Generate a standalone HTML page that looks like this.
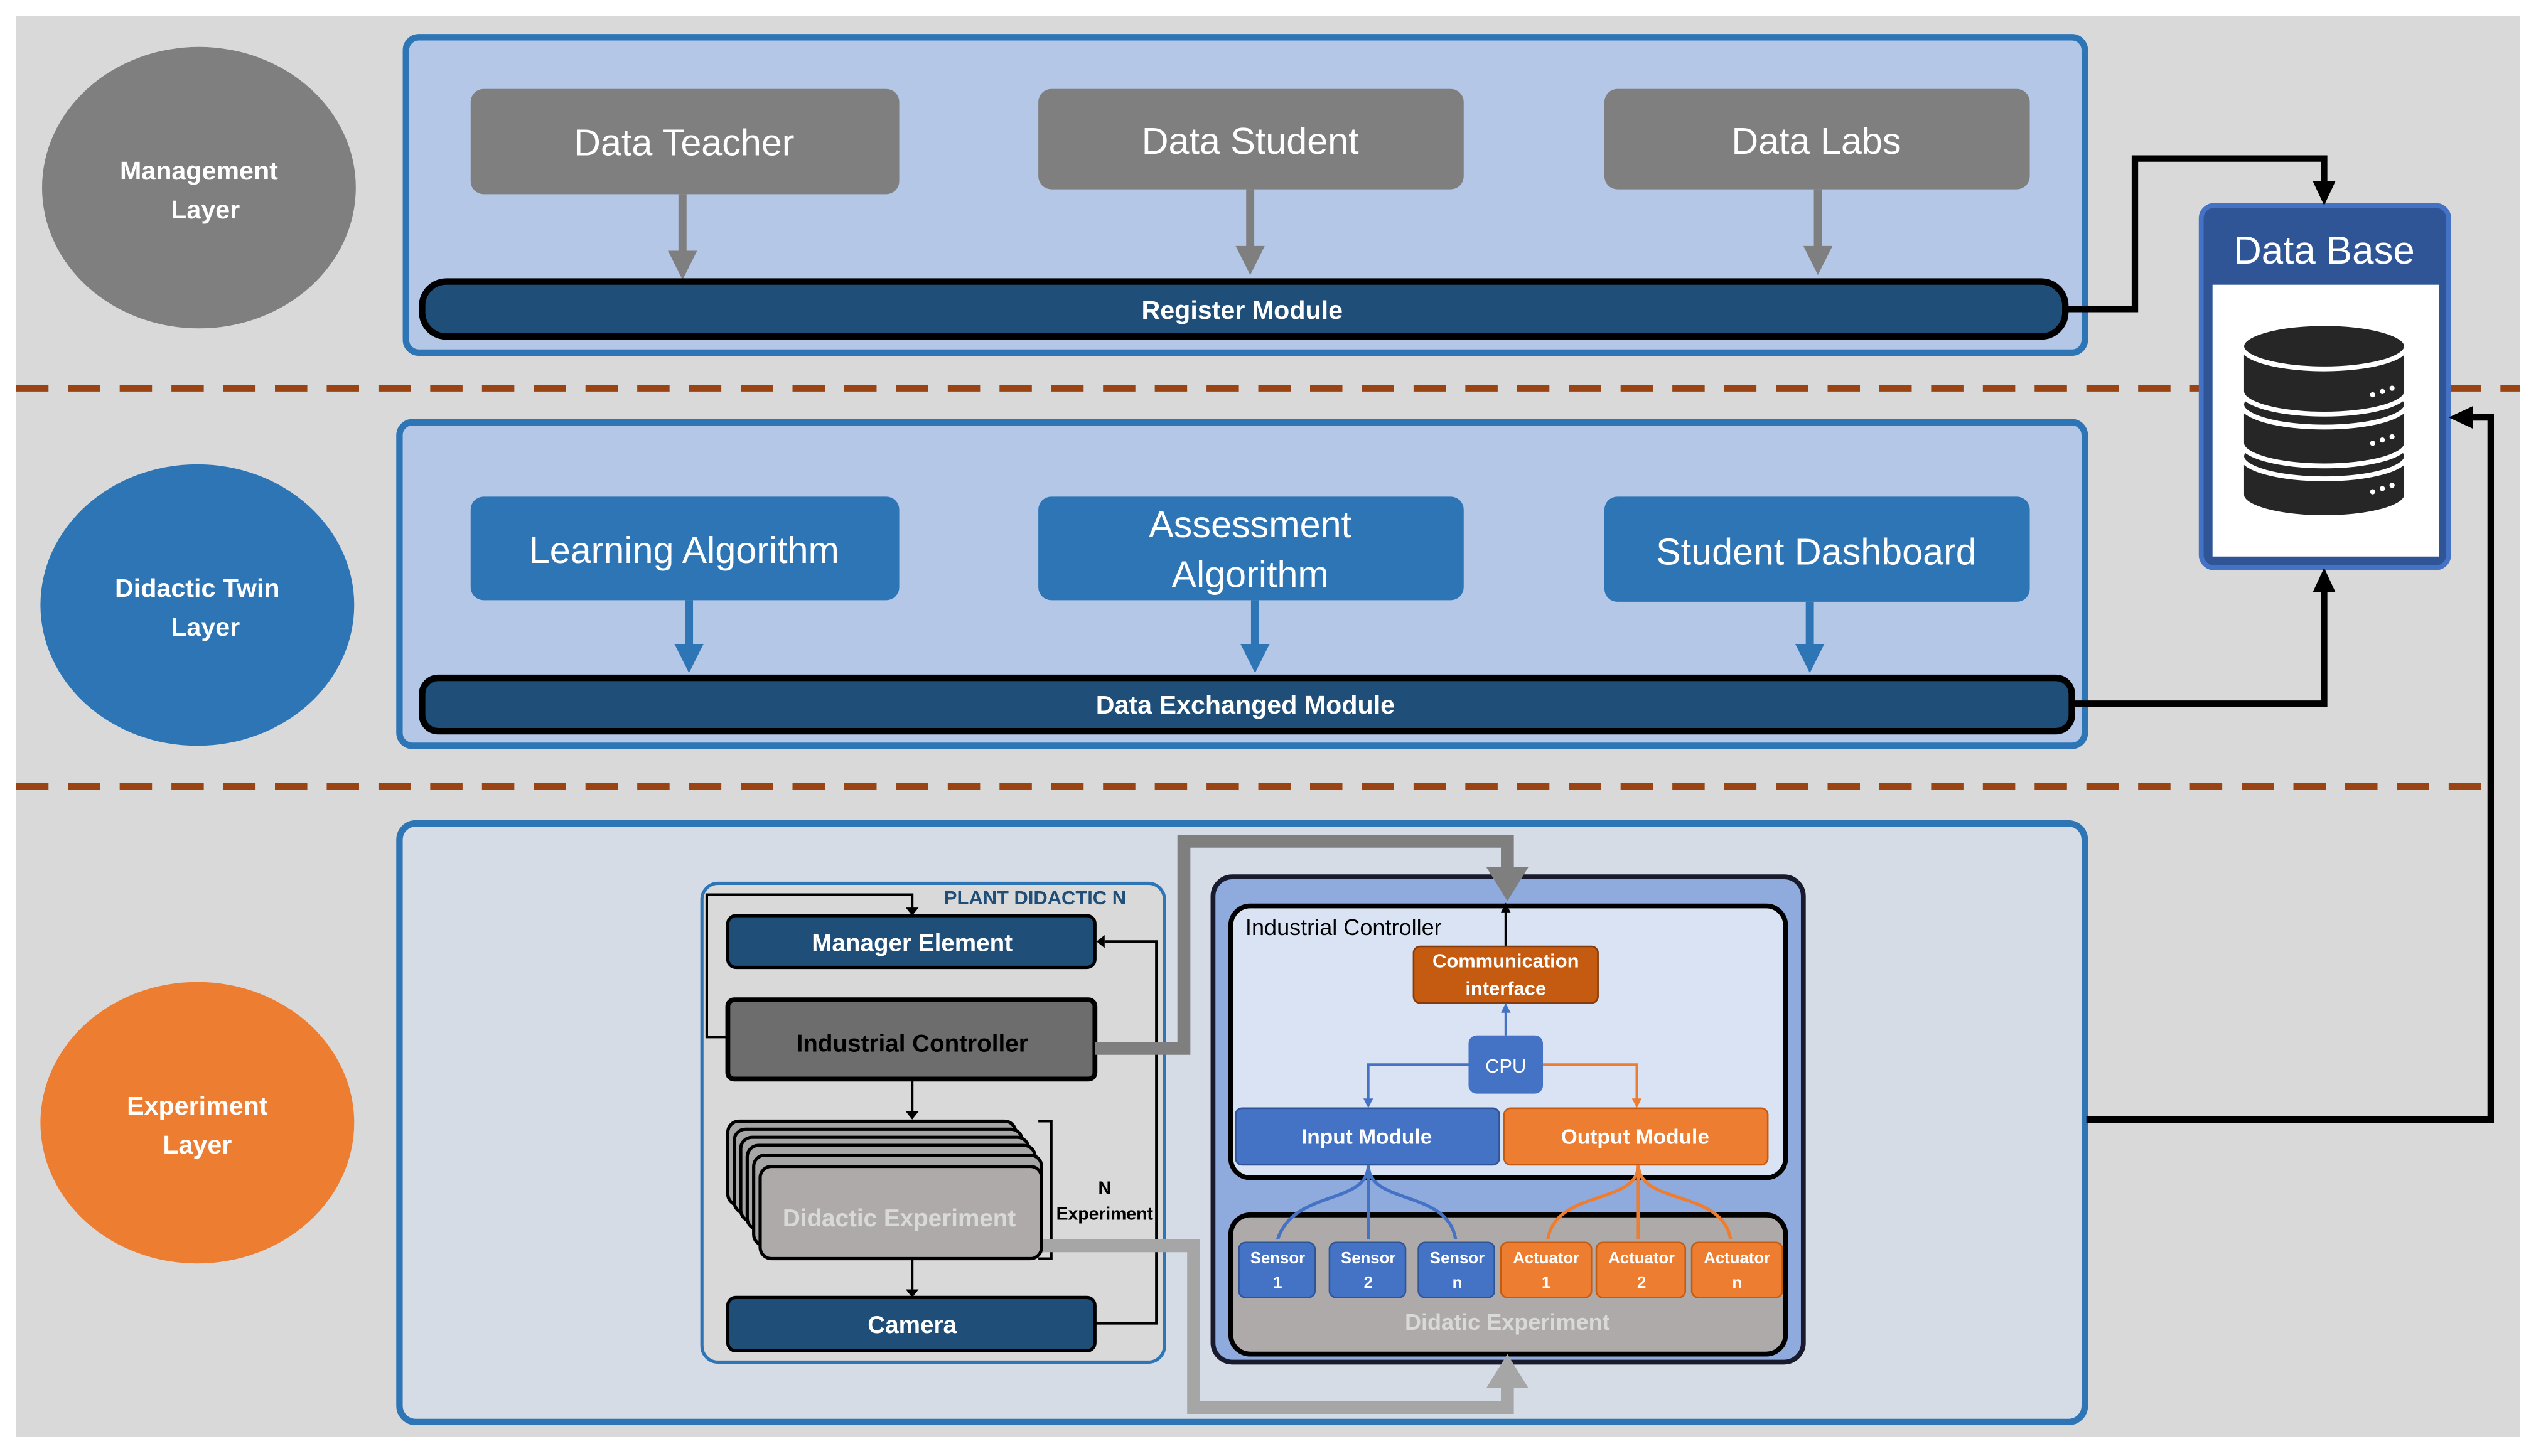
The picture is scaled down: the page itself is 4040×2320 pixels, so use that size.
<!DOCTYPE html>
<html><head><meta charset="utf-8"><style>
html,body{margin:0;padding:0;background:#fff;}
svg{display:block;}
text{font-family:"Liberation Sans",sans-serif;}
</style></head><body>
<svg width="4040" height="2320" viewBox="0 0 1568 900" preserveAspectRatio="none" xmlns="http://www.w3.org/2000/svg">
<defs>
<marker id="ak" markerWidth="6" markerHeight="6" refX="5" refY="3" orient="auto" markerUnits="strokeWidth"><path d="M0,0 L6,3 L0,6 z" fill="#000"/></marker>
<marker id="ab" markerWidth="6" markerHeight="6" refX="5" refY="3" orient="auto" markerUnits="strokeWidth"><path d="M0,0 L6,3 L0,6 z" fill="#4472c4"/></marker>
<marker id="ao" markerWidth="6" markerHeight="6" refX="5" refY="3" orient="auto" markerUnits="strokeWidth"><path d="M0,0 L6,3 L0,6 z" fill="#ed7d31"/></marker>
</defs>
<rect x="10" y="10" width="1548" height="878" fill="#d9d9d9"/>
<!-- dashed lines -->
<line x1="10" y1="240" x2="1558" y2="240" stroke="#9a4414" stroke-width="4" stroke-dasharray="20,12"/>
<line x1="10" y1="486" x2="1545" y2="486" stroke="#9a4414" stroke-width="4" stroke-dasharray="20,12"/>
<!-- circles -->
<ellipse cx="123" cy="116" rx="97" ry="87" fill="#7f7f7f"/>
<text x="123" y="111" font-size="16" font-weight="bold" fill="#fff" text-anchor="middle">Management</text>
<text x="127" y="135" font-size="16" font-weight="bold" fill="#fff" text-anchor="middle">Layer</text>
<ellipse cx="122" cy="374" rx="97" ry="87" fill="#2e75b6"/>
<text x="122" y="369" font-size="16" font-weight="bold" fill="#fff" text-anchor="middle">Didactic Twin</text>
<text x="127" y="393" font-size="16" font-weight="bold" fill="#fff" text-anchor="middle">Layer</text>
<ellipse cx="122" cy="694" rx="97" ry="87" fill="#ed7d31"/>
<text x="122" y="689" font-size="16" font-weight="bold" fill="#fff" text-anchor="middle">Experiment</text>
<text x="122" y="713" font-size="16" font-weight="bold" fill="#fff" text-anchor="middle">Layer</text>
<!-- panels -->
<rect x="251" y="23" width="1038" height="195" rx="8" fill="#b4c7e7" stroke="#2e75b6" stroke-width="4"/>
<rect x="247" y="261" width="1042" height="200" rx="8" fill="#b4c7e7" stroke="#2e75b6" stroke-width="4"/>
<rect x="247" y="509" width="1042" height="370" rx="10" fill="#d6dce5" stroke="#2e75b6" stroke-width="4"/>
<!-- management boxes -->
<g fill="#7f7f7f">
<rect x="291" y="55" width="265" height="65" rx="8"/>
<rect x="642" y="55" width="263" height="62" rx="8"/>
<rect x="992" y="55" width="263" height="62" rx="8"/>
</g>
<g font-size="23" fill="#fff" text-anchor="middle">
<text x="423" y="96">Data Teacher</text>
<text x="773" y="95">Data Student</text>
<text x="1123" y="95">Data Labs</text>
</g>
<g stroke="#7f7f7f" stroke-width="5" fill="#7f7f7f">
<line x1="422" y1="120" x2="422" y2="158"/><path d="M413,155 L431,155 L422,173 z" stroke="none"/>
<line x1="773" y1="117" x2="773" y2="155"/><path d="M764,152 L782,152 L773,170 z" stroke="none"/>
<line x1="1124" y1="117" x2="1124" y2="155"/><path d="M1115,152 L1133,152 L1124,170 z" stroke="none"/>
</g>
<rect x="261" y="174" width="1016" height="34" rx="15" fill="#1f4e79" stroke="#000" stroke-width="4"/>
<text x="768" y="197" font-size="16" font-weight="bold" fill="#fff" text-anchor="middle">Register Module</text>
<!-- twin boxes -->
<g fill="#2e75b6">
<rect x="291" y="307" width="265" height="64" rx="8"/>
<rect x="642" y="307" width="263" height="64" rx="8"/>
<rect x="992" y="307" width="263" height="65" rx="8"/>
</g>
<g font-size="23" fill="#fff" text-anchor="middle">
<text x="423" y="348">Learning Algorithm</text>
<text x="773" y="332">Assessment</text>
<text x="773" y="363">Algorithm</text>
<text x="1123" y="349">Student Dashboard</text>
</g>
<g stroke="#2e75b6" stroke-width="5" fill="#2e75b6">
<line x1="426" y1="371" x2="426" y2="400"/><path d="M417,398 L435,398 L426,416 z" stroke="none"/>
<line x1="776" y1="371" x2="776" y2="400"/><path d="M767,398 L785,398 L776,416 z" stroke="none"/>
<line x1="1119" y1="372" x2="1119" y2="400"/><path d="M1110,398 L1128,398 L1119,416 z" stroke="none"/>
</g>
<rect x="261" y="419" width="1020" height="33" rx="10" fill="#1f4e79" stroke="#000" stroke-width="4"/>
<text x="770" y="441" font-size="16" font-weight="bold" fill="#fff" text-anchor="middle">Data Exchanged Module</text>
<!-- Data Base -->
<rect x="1361" y="127" width="153" height="224" rx="8" fill="#2f5597" stroke="#4472c4" stroke-width="3"/>
<rect x="1368" y="176" width="140" height="168" fill="#fff"/>
<text x="1437" y="163" font-size="24" fill="#fff" text-anchor="middle">Data Base</text>
<g fill="#262626" stroke="#fff" stroke-width="3">
<path d="M1386,282 v24 a51,14 0 0 0 102,0 v-24 z"/>
<ellipse cx="1437" cy="282" rx="51" ry="14"/>
<path d="M1386,250 v24 a51,14 0 0 0 102,0 v-24 z"/>
<ellipse cx="1437" cy="250" rx="51" ry="14"/>
<path d="M1386,214 v28 a51,14 0 0 0 102,0 v-28 z"/>
<ellipse cx="1437" cy="214" rx="51" ry="14"/>
</g>
<g fill="#fff"><circle cx="1467" cy="244" r="1.6"/><circle cx="1473" cy="242" r="1.6"/><circle cx="1479" cy="240" r="1.6"/>
<circle cx="1467" cy="274" r="1.6"/><circle cx="1473" cy="272" r="1.6"/><circle cx="1479" cy="270" r="1.6"/>
<circle cx="1467" cy="304" r="1.6"/><circle cx="1473" cy="302" r="1.6"/><circle cx="1479" cy="300" r="1.6"/></g>
<!-- DB connectors -->
<g fill="none" stroke="#000" stroke-width="4">
<polyline points="1278,191 1320,191 1320,98 1437,98 1437,114"/>
<polyline points="1282,435 1437,435 1437,365"/>
<polyline points="1290,692 1540,692 1540,258 1528,258"/>
</g>
<path d="M1430,112 L1444,112 L1437,127 z"/>
<path d="M1430,366 L1444,366 L1437,351 z"/>
<path d="M1529,251 L1529,265 L1514,258 z"/>
<!-- Plant didactic -->
<rect x="434" y="546" width="286" height="296" rx="10" fill="#d9d9d9" stroke="#2e75b6" stroke-width="2"/>
<text x="640" y="559" font-size="12" font-weight="bold" fill="#1f4e79" text-anchor="middle">PLANT DIDACTIC N</text>
<g fill="none" stroke="#000" stroke-width="1.6">
<polyline points="450,641 437,641 437,553 564,553 564,562"/>
<polyline points="677,818 715,818 715,582 683,582"/>
<line x1="564" y1="667" x2="564" y2="688"/>
<line x1="564" y1="778" x2="564" y2="798"/>
<polyline points="642,693 650,693 650,778 642,778"/>
</g>
<path d="M560,561 L568,561 L564,566 z"/><path d="M683,578 L683,586 L678,582 z"/>
<path d="M560,687 L568,687 L564,692 z"/><path d="M560,797 L568,797 L564,802 z"/>
<rect x="450" y="566" width="227" height="32" rx="5" fill="#1f4e79" stroke="#000" stroke-width="2"/>
<text x="564" y="588" font-size="15" font-weight="bold" fill="#fff" text-anchor="middle">Manager Element</text>
<rect x="450" y="618" width="227" height="49" rx="4" fill="#6d6d6d" stroke="#000" stroke-width="3"/>
<text x="564" y="650" font-size="15" font-weight="bold" fill="#000" text-anchor="middle">Industrial Controller</text>
<g fill="#a6a6a6" stroke="#000" stroke-width="2">
<rect x="450" y="693" width="178" height="52" rx="7"/>
<rect x="454" y="698" width="178" height="52" rx="7"/>
<rect x="458" y="703" width="178" height="52" rx="7"/>
<rect x="462" y="708" width="178" height="52" rx="7"/>
<rect x="466" y="714" width="178" height="56" rx="7"/>
<rect x="470" y="721" width="174" height="57" rx="7" fill="#aeaaaa"/>
</g>
<text x="556" y="758" font-size="15" font-weight="bold" fill="#d9d9d9" text-anchor="middle">Didactic Experiment</text>
<text x="683" y="738" font-size="11" font-weight="bold" fill="#000" text-anchor="middle">N</text>
<text x="683" y="754" font-size="11" font-weight="bold" fill="#000" text-anchor="middle">Experiment</text>
<rect x="450" y="802" width="227" height="33" rx="5" fill="#1f4e79" stroke="#000" stroke-width="2"/>
<text x="564" y="824" font-size="15" font-weight="bold" fill="#fff" text-anchor="middle">Camera</text>
<!-- right box -->
<rect x="750" y="542" width="365" height="300" rx="12" fill="#8faadc" stroke="#1a1a2e" stroke-width="3"/>
<rect x="761" y="560" width="343" height="168" rx="12" fill="#dae3f3" stroke="#000" stroke-width="3"/>
<text x="770" y="578" font-size="14" fill="#000">Industrial Controller</text>
<rect x="761" y="751" width="343" height="86" rx="12" fill="#aeaaaa" stroke="#000" stroke-width="3"/>
<text x="932" y="822" font-size="14" font-weight="bold" fill="#d9d9d9" text-anchor="middle">Didatic Experiment</text>
<!-- gray thick connectors -->
<polyline points="677,648 732,648 732,520 932,520 932,540" fill="none" stroke="#7f7f7f" stroke-width="8"/>
<path d="M919,536 L945,536 L932,557 z" fill="#7f7f7f"/>
<polyline points="645,770 738,770 738,870 932,870 932,856" fill="none" stroke="#a6a6a6" stroke-width="8"/>
<path d="M919,858 L945,858 L932,837 z" fill="#a6a6a6"/>
<!-- inner controller -->
<line x1="931" y1="585" x2="931" y2="563" stroke="#000" stroke-width="1.5"/><path d="M928,564 L934,564 L931,558 z"/>
<rect x="874" y="585" width="114" height="35" rx="4" fill="#c55a11" stroke="#843c0c" stroke-width="1"/>
<text x="931" y="598" font-size="12" font-weight="bold" fill="#fff" text-anchor="middle">Communication</text>
<text x="931" y="615" font-size="12" font-weight="bold" fill="#fff" text-anchor="middle">interface</text>
<line x1="931" y1="640" x2="931" y2="625" stroke="#4472c4" stroke-width="1.5"/><path d="M928,626 L934,626 L931,620 z" fill="#4472c4"/>
<polyline points="908,658 846,658 846,680" fill="none" stroke="#4472c4" stroke-width="1.5"/><path d="M843,679 L849,679 L846,685 z" fill="#4472c4"/>
<polyline points="954,658 1012,658 1012,680" fill="none" stroke="#ed7d31" stroke-width="1.5"/><path d="M1009,679 L1015,679 L1012,685 z" fill="#ed7d31"/>
<rect x="908" y="640" width="46" height="36" rx="5" fill="#4472c4"/>
<text x="931" y="663" font-size="12" fill="#fff" text-anchor="middle">CPU</text>
<rect x="764" y="685" width="163" height="35" rx="4" fill="#4472c4" stroke="#2f5597" stroke-width="1"/>
<text x="845" y="707" font-size="13" font-weight="bold" fill="#fff" text-anchor="middle">Input Module</text>
<rect x="930" y="685" width="163" height="35" rx="4" fill="#ed7d31" stroke="#c55a11" stroke-width="1"/>
<text x="1011" y="707" font-size="13" font-weight="bold" fill="#fff" text-anchor="middle">Output Module</text>
<!-- curvy connectors -->
<g fill="none" stroke="#4472c4" stroke-width="2">
<path d="M846,720 C846,745 800,735 790,766"/>
<path d="M846,720 L846,766"/>
<path d="M846,720 C846,745 895,735 900,766"/>
</g>
<g fill="none" stroke="#ed7d31" stroke-width="2">
<path d="M1013,720 C1013,745 962,735 957,766"/>
<path d="M1013,720 L1013,766"/>
<path d="M1013,720 C1013,745 1065,735 1070,766"/>
</g>
<g fill="#4472c4" stroke="#2f5597" stroke-width="1">
<rect x="766" y="768" width="47" height="34" rx="4"/>
<rect x="822" y="768" width="47" height="34" rx="4"/>
<rect x="877" y="768" width="47" height="34" rx="4"/>
</g>
<g fill="#ed7d31" stroke="#c55a11" stroke-width="1">
<rect x="928" y="768" width="56" height="34" rx="4"/>
<rect x="987" y="768" width="55" height="34" rx="4"/>
<rect x="1046" y="768" width="56" height="34" rx="4"/>
</g>
<g font-size="10" font-weight="bold" fill="#fff" text-anchor="middle">
<text x="790" y="781">Sensor</text><text x="790" y="796">1</text>
<text x="846" y="781">Sensor</text><text x="846" y="796">2</text>
<text x="901" y="781">Sensor</text><text x="901" y="796">n</text>
<text x="956" y="781">Actuator</text><text x="956" y="796">1</text>
<text x="1015" y="781">Actuator</text><text x="1015" y="796">2</text>
<text x="1074" y="781">Actuator</text><text x="1074" y="796">n</text>
</g>
</svg>
</body></html>
